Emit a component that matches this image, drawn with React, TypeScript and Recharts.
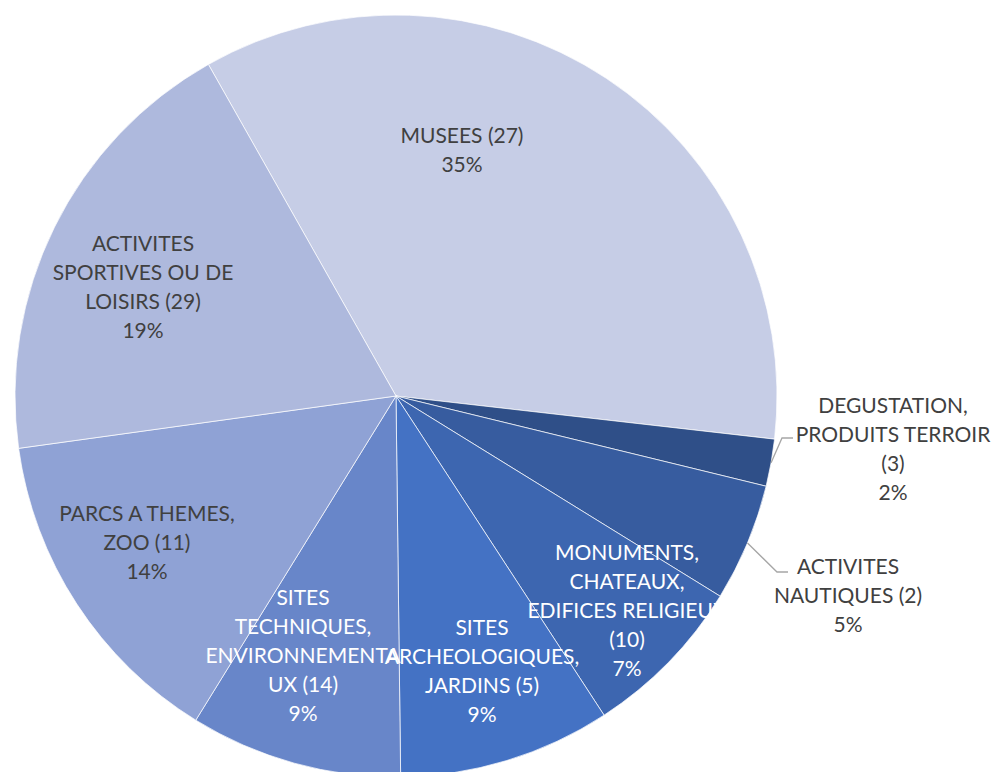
import React from "react";
import { PieChart, Pie, Cell } from "recharts";

const CATEGORIES = [
  "MUSEES (27)",
  "DEGUSTATION, PRODUITS TERROIR (3)",
  "ACTIVITES NAUTIQUES (2)",
  "MONUMENTS, CHATEAUX, EDIFICES RELIGIEUX (10)",
  "SITES ARCHEOLOGIQUES, JARDINS (5)",
  "SITES TECHNIQUES, ENVIRONNEMENTAUX (14)",
  "PARCS A THEMES, ZOO (11)",
  "ACTIVITES SPORTIVES OU DE LOISIRS (29)",
];

const PERCENTS = [35, 2, 5, 7, 9, 9, 14, 19];

// wrapped label text, as in the picture
const LABEL_LINES = [
  ["MUSEES (27)"],
  ["DEGUSTATION,", "PRODUITS TERROIR", "(3)"],
  ["ACTIVITES", "NAUTIQUES (2)"],
  ["MONUMENTS,", "CHATEAUX,", "EDIFICES RELIGIEUX", "(10)"],
  ["SITES", "ARCHEOLOGIQUES,", "JARDINS (5)"],
  ["SITES", "TECHNIQUES,", "ENVIRONNEMENTA", "UX (14)"],
  ["PARCS A THEMES,", "ZOO (11)"],
  ["ACTIVITES", "SPORTIVES OU DE", "LOISIRS (29)"],
];

const COLORS = [
  "#c6cde6",
  "#2f4f88",
  "#375c9f",
  "#3d66b0",
  "#4472c4",
  "#6886c9",
  "#8fa2d5",
  "#aeb9dd",
];

const TEXT_COLORS = [
  "#404040",
  "#404040",
  "#404040",
  "#ffffff",
  "#ffffff",
  "#ffffff",
  "#404040",
  "#404040",
];

// label block centres, relative to the pie centre
const LABEL_OFFSETS = [
  [66, -247],
  [497, 52],
  [452, 198],
  [231, 213],
  [86, 274],
  [-93, 258],
  [-249, 145],
  [-253, -110],
];

// leader line elbows for the labels placed outside
const LEADERS: Record<number, number[]> = {
  1: [386, 42, 397, 42],
  2: [381, 176, 392, 176],
};

const data = CATEGORIES.map((name, i) => ({ name, value: PERCENTS[i] }));

const RAD = Math.PI / 180;
const LINE_H = 29;

const renderLabel = (props: any) => {
  const { cx, cy, midAngle, outerRadius, index } = props;
  const lines = [...LABEL_LINES[index], `${PERCENTS[index]}%`];
  const [dx, dy] = LABEL_OFFSETS[index];
  const x = cx + dx;
  const y0 = cy + dy - ((lines.length - 1) * LINE_H) / 2;
  const leader = LEADERS[index];
  let path = null;
  if (leader) {
    const sx = cx + outerRadius * Math.cos(-midAngle * RAD);
    const sy = cy + outerRadius * Math.sin(-midAngle * RAD);
    path = (
      <polyline
        points={`${sx},${sy} ${cx + leader[0]},${cy + leader[1]} ${cx + leader[2]},${cy + leader[3]}`}
        fill="none"
        stroke="#a6a6a6"
        strokeWidth={1.3}
      />
    );
  }
  return (
    <g key={`lbl-${index}`}>
      {path}
      {lines.map((t, k) => (
        <text
          key={k}
          x={x}
          y={y0 + k * LINE_H}
          textAnchor="middle"
          dominantBaseline="central"
          fill={TEXT_COLORS[index]}
          fontSize={21}
          fontFamily="Lato, 'Open Sans', sans-serif"
        >
          {t}
        </text>
      ))}
    </g>
  );
};

export default function App() {
  return (
    <div
      style={{
        position: "absolute",
        left: 0,
        top: 0,
        width: 1000,
        height: 772,
        background: "#ffffff",
        overflow: "hidden",
      }}
    >
      <PieChart
        width={1000}
        height={772}
        margin={{ top: 0, right: 0, bottom: 0, left: 0 }}
      >
        <Pie
          data={data}
          dataKey="value"
          nameKey="name"
          cx={396}
          cy={396}
          outerRadius={381}
          startAngle={119.5}
          endAngle={-240.5}
          stroke="#ffffff"
          strokeWidth={0.7}
          label={renderLabel}
          labelLine={false}
          isAnimationActive={false}
        >
          {data.map((entry, index) => (
            <Cell key={`cell-${index}`} fill={COLORS[index]} />
          ))}
        </Pie>
      </PieChart>
    </div>
  );
}
